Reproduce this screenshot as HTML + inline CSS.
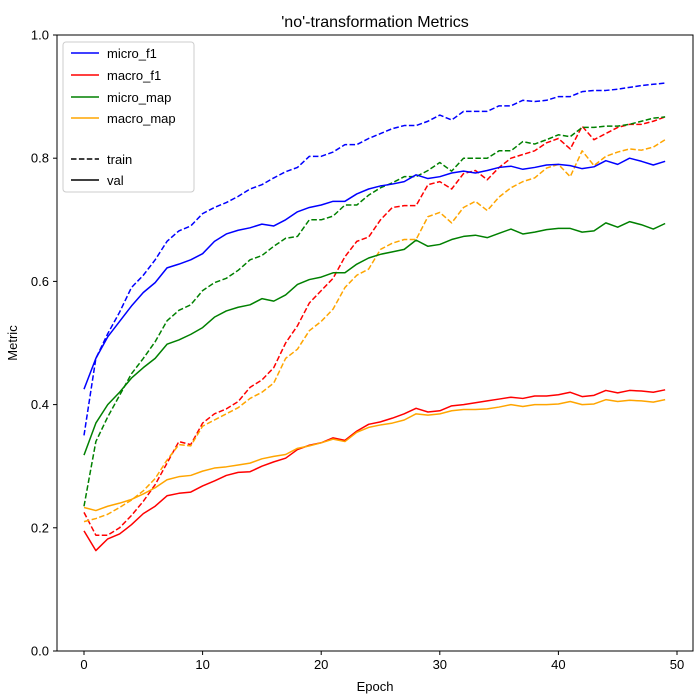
<!DOCTYPE html>
<html><head><meta charset="utf-8"><style>
html,body{margin:0;padding:0;background:#fff}
svg{display:block;font-family:"Liberation Sans","DejaVu Sans",sans-serif}
</style></head><body>
<svg id="chart" width="700" height="700" viewBox="0 0 700 700" xmlns="http://www.w3.org/2000/svg">
<rect width="700" height="700" fill="#fff"/>
<text x="375" y="27" text-anchor="middle" font-size="16">'no'-transformation Metrics</text>
<g id="grid"></g>
<g id="series"></g>
<rect x="57" y="35" width="636" height="616" fill="none" stroke="#000" stroke-width="1"/>
<text x="375" y="691" text-anchor="middle" font-size="13">Epoch</text>
<text transform="translate(17,343) rotate(-90)" text-anchor="middle" font-size="13">Metric</text>
<g>
<rect x="63" y="42" width="131" height="150" rx="3" fill="#fff" fill-opacity="0.8" stroke="#ccc"/>
<line x1="71" y1="53" x2="99" y2="53" stroke="blue" stroke-width="1.5"/><text x="107" y="58" font-size="13">micro_f1</text>
<line x1="71" y1="75" x2="99" y2="75" stroke="red" stroke-width="1.5"/><text x="107" y="80" font-size="13">macro_f1</text>
<line x1="71" y1="97" x2="99" y2="97" stroke="green" stroke-width="1.5"/><text x="107" y="102" font-size="13">micro_map</text>
<line x1="71" y1="118" x2="99" y2="118" stroke="orange" stroke-width="1.5"/><text x="107" y="123" font-size="13">macro_map</text>
<line x1="71" y1="159" x2="99" y2="159" stroke="#000" stroke-width="1.5" stroke-dasharray="5.5,2.4"/><text x="107" y="164" font-size="13">train</text>
<line x1="71" y1="180" x2="99" y2="180" stroke="#000" stroke-width="1.5"/><text x="107" y="185" font-size="13">val</text>
</g>
</svg>
<script>
const xTicks=[0,10,20,30,40,50];
const yTicks=[0.0,0.2,0.4,0.6,0.8,1.0];
const microF1Val=[0.425,0.475,0.51,0.535,0.56,0.582,0.598,0.622,0.628,0.635,0.645,0.665,0.677,0.683,0.687,0.693,0.69,0.70,0.713,0.72,0.724,0.73,0.73,0.742,0.75,0.755,0.758,0.762,0.773,0.767,0.77,0.776,0.779,0.776,0.78,0.785,0.787,0.782,0.785,0.789,0.79,0.788,0.783,0.786,0.796,0.79,0.8,0.795,0.789,0.795];
const microF1Train=[0.35,0.475,0.515,0.55,0.59,0.61,0.635,0.665,0.682,0.69,0.71,0.72,0.728,0.738,0.75,0.757,0.768,0.778,0.785,0.803,0.803,0.81,0.822,0.822,0.832,0.84,0.848,0.853,0.853,0.86,0.87,0.862,0.876,0.876,0.876,0.885,0.885,0.894,0.892,0.894,0.9,0.9,0.908,0.91,0.91,0.912,0.915,0.918,0.92,0.922];
const microMapVal=[0.318,0.37,0.40,0.42,0.443,0.46,0.475,0.498,0.505,0.514,0.525,0.542,0.552,0.558,0.562,0.572,0.568,0.578,0.595,0.603,0.607,0.614,0.614,0.628,0.638,0.644,0.648,0.652,0.667,0.657,0.66,0.668,0.673,0.675,0.671,0.678,0.685,0.677,0.68,0.684,0.686,0.686,0.68,0.682,0.695,0.688,0.697,0.692,0.685,0.694];
const microMapTrain=[0.235,0.34,0.38,0.415,0.45,0.475,0.502,0.536,0.553,0.562,0.585,0.598,0.605,0.618,0.635,0.642,0.657,0.67,0.673,0.7,0.7,0.706,0.724,0.724,0.74,0.752,0.76,0.77,0.77,0.78,0.793,0.779,0.80,0.80,0.80,0.812,0.812,0.827,0.823,0.83,0.838,0.835,0.85,0.85,0.852,0.852,0.855,0.86,0.865,0.867];
const macroF1Val=[0.195,0.163,0.182,0.19,0.205,0.223,0.235,0.252,0.256,0.258,0.268,0.276,0.285,0.29,0.291,0.30,0.307,0.313,0.327,0.334,0.338,0.346,0.342,0.357,0.368,0.372,0.378,0.385,0.394,0.388,0.39,0.398,0.40,0.403,0.406,0.409,0.412,0.41,0.414,0.414,0.416,0.42,0.413,0.415,0.423,0.419,0.423,0.422,0.42,0.424];
const macroF1Train=[0.225,0.188,0.188,0.2,0.22,0.243,0.27,0.305,0.34,0.335,0.37,0.385,0.393,0.405,0.428,0.44,0.46,0.5,0.528,0.565,0.585,0.605,0.64,0.665,0.672,0.7,0.72,0.723,0.723,0.757,0.762,0.75,0.775,0.78,0.765,0.785,0.8,0.806,0.812,0.825,0.832,0.815,0.852,0.83,0.84,0.85,0.855,0.855,0.86,0.867];
const macroMapVal=[0.233,0.228,0.235,0.24,0.246,0.255,0.265,0.278,0.283,0.285,0.292,0.297,0.299,0.302,0.305,0.312,0.316,0.319,0.329,0.333,0.338,0.344,0.34,0.355,0.363,0.367,0.37,0.375,0.385,0.383,0.385,0.39,0.392,0.392,0.393,0.396,0.4,0.397,0.4,0.4,0.401,0.405,0.4,0.401,0.408,0.405,0.407,0.406,0.404,0.408];
const macroMapTrain=[0.21,0.215,0.222,0.233,0.245,0.26,0.28,0.31,0.335,0.333,0.365,0.375,0.385,0.395,0.41,0.42,0.435,0.475,0.49,0.52,0.535,0.555,0.59,0.61,0.62,0.652,0.662,0.668,0.668,0.705,0.712,0.695,0.72,0.73,0.715,0.737,0.752,0.762,0.768,0.784,0.79,0.77,0.812,0.788,0.803,0.81,0.815,0.813,0.818,0.83];

const NS='http://www.w3.org/2000/svg';
function xs(e){return 84+e*(677-84)/50;}
function ys(v){return 651-v*616;}
const grid=document.getElementById('grid');
const ser=document.getElementById('series');
function mk(tag,attrs,parent){const el=document.createElementNS(NS,tag);for(const k in attrs)el.setAttribute(k,attrs[k]);parent.appendChild(el);return el;}
xTicks.forEach(t=>{
  const l=mk('line',{x1:xs(t),x2:xs(t),y1:651,y2:655,stroke:'#000'},grid);
  
  
  const tx=mk('text',{x:xs(t),y:669,'text-anchor':'middle','font-size':'13'},grid);
  tx.textContent=String(t);
  
  
});
yTicks.forEach(t=>{
  const l=mk('line',{x1:53,x2:57,y1:ys(t),y2:ys(t),stroke:'#000'},grid);
  
  
  const tx=mk('text',{x:49,y:ys(t)+4.5,'text-anchor':'end','font-size':'13'},grid);
  tx.textContent=t.toFixed(1);
  
  
});
function line(arr,color,dashed,name){
  const d=arr.map((v,i)=>(i?'L':'M')+xs(i).toFixed(2)+','+ys(v).toFixed(2)).join('');
  const p=mk('path',{d:d,fill:'none',stroke:color,'stroke-width':1.5,'stroke-linejoin':'round'},ser);
  if(dashed)p.setAttribute('stroke-dasharray','5.5,2.4');
  
  
}
line(microF1Train,'blue',true,'micro-f1-train-line');
line(macroF1Train,'red',true,'macro-f1-train-line');
line(microMapTrain,'green',true,'micro-map-train-line');
line(macroMapTrain,'orange',true,'macro-map-train-line');
line(microF1Val,'blue',false,'micro-f1-val-line');
line(macroF1Val,'red',false,'macro-f1-val-line');
line(microMapVal,'green',false,'micro-map-val-line');
line(macroMapVal,'orange',false,'macro-map-val-line');
</script>
</body></html>
